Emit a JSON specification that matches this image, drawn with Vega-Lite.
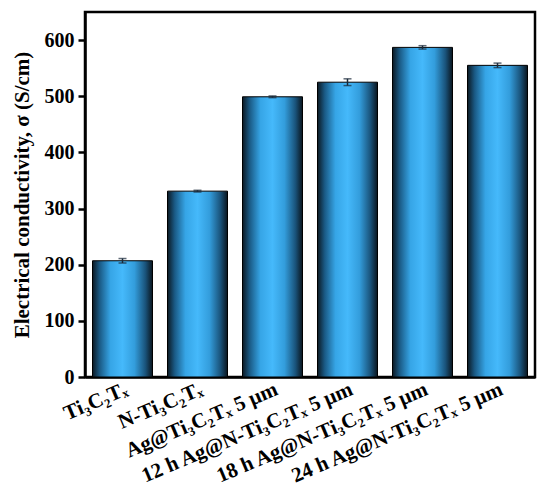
{
  "$schema": "https://vega.github.io/schema/vega-lite/v6.json",
  "width": 450,
  "height": 365,
  "padding": {"left": 11, "top": 12, "right": 10, "bottom": 5},
  "background": "white",
  "config": {
    "view": {"stroke": "black", "strokeWidth": 2.5},
    "axis": {"grid": false, "domainColor": "black", "domainWidth": 2.5, "tickColor": "black", "tickWidth": 2.5, "labelColor": "black", "titleColor": "black", "labelFont": "Liberation Serif", "titleFont": "Liberation Serif", "labelFontWeight": "bold", "titleFontWeight": "bold"}
  },
  "data": {
    "values": [
      {"sample": "Ti₃C₂Tₓ", "sigma": 207, "err": 4},
      {"sample": "N-Ti₃C₂Tₓ", "sigma": 331, "err": 1.5},
      {"sample": "Ag@Ti₃C₂Tₓ 5 μm", "sigma": 499, "err": 1.5},
      {"sample": "12 h Ag@N-Ti₃C₂Tₓ 5 μm", "sigma": 525, "err": 6},
      {"sample": "18 h Ag@N-Ti₃C₂Tₓ 5 μm", "sigma": 587, "err": 3},
      {"sample": "24 h Ag@N-Ti₃C₂Tₓ 5 μm", "sigma": 555, "err": 4}
    ]
  },
  "encoding": {
    "x": {
      "field": "sample", "type": "nominal", "sort": null,
      "scale": {"paddingInner": 0.2, "paddingOuter": 0.1},
      "axis": {"title": null, "labelAngle": -23, "labelFontSize": 21, "labelLimit": 0, "ticks": false, "labelPadding": 1, "domain": true}
    }
  },
  "layer": [
    {
      "mark": {
        "type": "bar",
        "stroke": "black",
        "strokeWidth": 1,
        "fill": {
          "gradient": "linear", "x1": 0, "y1": 0, "x2": 1, "y2": 0,
          "stops": [
            {"offset": 0, "color": "#0b1822"},
            {"offset": 0.12, "color": "#1a5a85"},
            {"offset": 0.3, "color": "#36a5e6"},
            {"offset": 0.5, "color": "#45b9fb"},
            {"offset": 0.7, "color": "#339ddc"},
            {"offset": 0.88, "color": "#1a547c"},
            {"offset": 1, "color": "#0a151e"}
          ]
        }
      },
      "encoding": {
        "y": {
          "field": "sigma", "type": "quantitative",
          "scale": {"domain": [0, 650], "nice": false},
          "axis": {"title": "Electrical conductivity, σ (S/cm)", "titleFontSize": 21, "labelFontSize": 20, "values": [0, 100, 200, 300, 400, 500, 600], "tickSize": 7, "labelPadding": 4, "titlePadding": 12}
        }
      }
    },
    {
      "mark": {"type": "errorbar", "ticks": {"color": "#1a2a3a", "size": 8, "thickness": 1.5}, "rule": {"color": "#1a2a3a", "strokeWidth": 1.5}},
      "encoding": {
        "y": {"field": "sigma", "type": "quantitative", "title": "Electrical conductivity, σ (S/cm)"},
        "yError": {"field": "err"}
      }
    }
  ]
}
